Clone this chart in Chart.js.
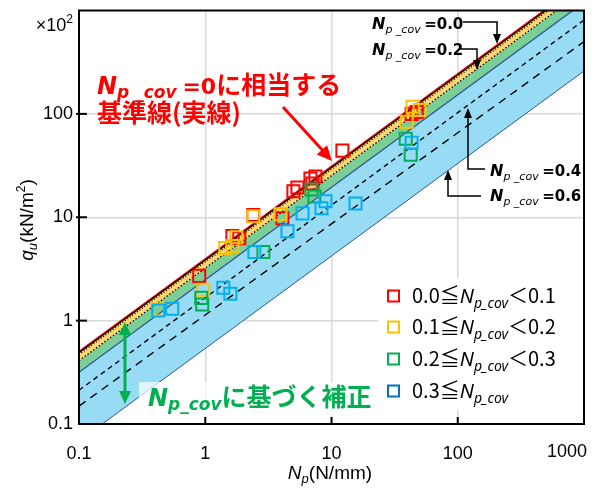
<!DOCTYPE html>
<html><head><meta charset="utf-8">
<script src="https://cdn.jsdelivr.net/npm/chart.js@4.4.1/dist/chart.umd.min.js"></script>
<style>html,body{margin:0;padding:0;background:#fff;}#wrap{width:598px;height:490px;}</style>
</head><body><div id="wrap"><canvas id="c" width="598" height="490"></canvas></div>
<script>
// ---- data ----
const xTicks = [0.1, 1, 10, 100, 1000];
const yTicks = [0.1, 1, 10, 100, 1000];
const lineNp = [0.1, 1000];
const lineCov = ['0.0', '0.1', '0.2', '0.3', '0.4', '0.5', '0.6'];
const lineQStart = [0.49, 0.47, 0.41, 0.316, 0.212, 0.149, 0.0685];
const lineQEnd = [1870, 1790, 1560, 1200, 807, 500, 260];

const npRed = [0.896, 1.64, 1.86, 2.40, 4.08, 4.99, 5.37, 6.81, 7.46, 7.06, 12.2, 43.1, 47.3];
const quRed = [2.71, 6.57, 6.28, 10.5, 9.78, 17.8, 19.4, 23.7, 24.8, 21.2, 44.1, 100, 104.5];
const npYellow = [0.424, 0.964, 1.44, 1.64, 1.76, 2.40, 3.94, 39.4, 43.9, 49.9];
const quYellow = [1.28, 1.99, 5.03, 5.26, 6.42, 10.2, 10.7, 83.7, 117, 109];
const npGreen = [0.93, 0.946, 2.89, 6.94, 7.33, 38.7, 42.4];
const quGreen = [1.66, 1.43, 4.61, 18.6, 15.9, 57.5, 40.3];
const npBlue = [0.424, 0.547, 1.39, 1.58, 2.45, 4.48, 5.89, 8.33, 8.96, 15.5, 43.1];
const quBlue = [1.25, 1.30, 2.08, 1.82, 4.61, 7.33, 10.9, 12.2, 14.3, 13.6, 52.6];

const legendLabels = [['0.0', '0.1'], ['0.1', '0.2'], ['0.2', '0.3'], ['0.3', null]];

// ---- helpers ----
const pts = (xs, ys) => xs.map((x, i) => ({x: x, y: ys[i]}));
const linePts = i => pts(lineNp, [lineQStart[i], lineQEnd[i]]);
const C = {
  red: 'rgb(255,0,0)', yellow: 'rgb(255,192,0)', green: 'rgb(0,176,80)', blue: 'rgb(0,176,240)',
  legBlue: 'rgb(0,112,192)', bandY: 'rgb(255,214,110)', bandG: 'rgb(122,207,150)', bandB: 'rgb(152,219,245)',
  edge: 'rgb(47,85,151)'
};
function scat(xs, ys, col, ord) {
  return {type: 'scatter', data: pts(xs, ys), borderColor: col, backgroundColor: 'rgba(0,0,0,0)',
    pointStyle: 'rect', pointRadius: 8.5, pointBorderWidth: 2, order: ord};
}
function ln(i, col, w, dash, ord, extra) {
  return Object.assign({type: 'line', data: linePts(i), borderColor: col, borderWidth: w, borderDash: dash,
    pointRadius: 0, fill: false, tension: 0, order: ord, backgroundColor: 'rgba(0,0,0,0)'}, extra || {});
}

const datasets = [
  scat(npBlue, quBlue, C.blue, 0),        //0
  scat(npGreen, quGreen, C.green, 1),     //1
  scat(npYellow, quYellow, C.yellow, 2),  //2
  scat(npRed, quRed, C.red, 3),           //3
  ln(0, '#000', 1.3, [], 10),             //4
  ln(1, '#000', 1.3, [1, 2], 11),         //5
  ln(2, '#000', 1.3, [1.5, 2], 12),       //6
  ln(3, C.edge, 1.3, [], 13),             //7
  ln(4, '#000', 1.4, [5, 4], 14),         //8
  ln(5, '#000', 1.4, [8, 6], 15),         //9
  ln(6, C.edge, 1, [], 16),               //10
  ln(0, 'rgba(0,0,0,0)', 0, [], 20, {fill: 6, backgroundColor: C.bandY}), //11 yellow band
  ln(0, C.red, 3.5, [], 21),              //12 red reference line
  ln(2, 'rgba(0,0,0,0)', 0, [], 22, {fill: 7, backgroundColor: C.bandG}), //13 green band
  ln(3, 'rgba(0,0,0,0)', 0, [], 23, {fill: 10, backgroundColor: C.bandB}) //14 blue band
];

// text runs
function runs(ctx, x, y, parts, align, color) {
  let w = 0;
  parts.forEach(p => { ctx.font = p.f; p.w = ctx.measureText(p.t).width; w += p.w + (p.sp || 0); });
  let cx = align === 'right' ? x - w : align === 'center' ? x - w / 2 : x;
  ctx.textAlign = 'left'; ctx.textBaseline = 'alphabetic';
  parts.forEach(p => { ctx.font = p.f; ctx.fillStyle = p.c || color || '#000'; ctx.fillText(p.t, cx, y + (p.dy || 0)); cx += p.w + (p.sp || 0); });
}
function arrowHead(ctx, x1, y1, x2, y2, len, hw, col) {
  const a = Math.atan2(y2 - y1, x2 - x1);
  ctx.fillStyle = col; ctx.beginPath();
  ctx.moveTo(x2, y2);
  ctx.lineTo(x2 - len * Math.cos(a) + hw * Math.sin(a), y2 - len * Math.sin(a) - hw * Math.cos(a));
  ctx.lineTo(x2 - len * Math.cos(a) - hw * Math.sin(a), y2 - len * Math.sin(a) + hw * Math.cos(a));
  ctx.closePath(); ctx.fill();
}
function poly(ctx, ptsArr, col, w) {
  ctx.strokeStyle = col; ctx.lineWidth = w; ctx.setLineDash([]); ctx.beginPath();
  ptsArr.forEach((p, i) => i ? ctx.lineTo(p[0], p[1]) : ctx.moveTo(p[0], p[1])); ctx.stroke();
}

const JP = '"Noto Sans CJK JP"';
const LAT = '"DejaVu Sans"';
const AR = '"Liberation Sans"';

const deco = {
  id: 'deco',
  beforeDraw(chart) {
    const ctx = chart.ctx; ctx.save(); ctx.fillStyle = '#fff'; ctx.fillRect(0, 0, chart.width, chart.height); ctx.restore();
  },
  afterDraw(chart) {
    const ctx = chart.ctx, a = chart.chartArea, xs = chart.scales.x, ys = chart.scales.y;
    ctx.save();
    // frame
    ctx.strokeStyle = '#000'; ctx.lineWidth = 2; ctx.setLineDash([]);
    ctx.strokeRect(a.left, a.top, a.right - a.left, a.bottom - a.top);
    // tick marks
    ctx.lineWidth = 2;
    [1, 10, 100].forEach(v => {
      const px = xs.getPixelForValue(v); ctx.beginPath(); ctx.moveTo(px, a.bottom); ctx.lineTo(px, a.bottom - 7); ctx.stroke();
      const py = ys.getPixelForValue(v); ctx.beginPath(); ctx.moveTo(a.left - 3, py); ctx.lineTo(a.left + 8, py); ctx.stroke();
    });
    // last x tick label, kept inside the canvas as in the reference
    ctx.font = `18px ${AR}`; ctx.fillStyle = '#000'; ctx.textAlign = 'right'; ctx.textBaseline = 'top';
    ctx.fillText(String(xTicks[xTicks.length - 1]), 587, a.bottom + 19);
    // x10^2
    runs(ctx, 73, 31, [{t: '×10', f: `18px ${AR}`}, {t: '2', f: `12px ${AR}`, dy: -8}], 'right');
    // y title
    ctx.save(); ctx.translate(26, 220); ctx.rotate(-Math.PI / 2);
    runs(ctx, 0, 7, [{t: 'q', f: `italic 19px ${AR}`}, {t: 'u', f: `italic 13px ${AR}`, dy: 4}, {t: '(kN/m', f: `19px ${AR}`}, {t: '2', f: `12px ${AR}`, dy: -8}, {t: ')', f: `19px ${AR}`}], 'center');
    ctx.restore();
    // x title
    runs(ctx, 330, 479, [{t: 'N', f: `italic 19px ${AR}`}, {t: 'p', f: `italic 13px ${AR}`, dy: 4}, {t: '(N/mm)', f: `19px ${AR}`}], 'center');

    // red annotation
    runs(ctx, 97, 94, [{t: 'N', f: `bold italic 24px ${LAT}`}, {t: 'p _cov ', f: `bold italic 17px ${LAT}`, dy: 4},
      {t: '=0', f: `bold 22px ${LAT}`}, {t: 'に相当する', f: `bold 25px ${JP}`}], 'left', C.red);
    runs(ctx, 97, 122, [{t: '基準線(実線)', f: `bold 25px ${JP}`}], 'left', C.red);
    poly(ctx, [[283, 107], [325, 153]], C.red, 3);
    arrowHead(ctx, 283, 107, 332, 161, 15, 7, C.red);

    // black labels
    const lab = (x, y, v) => runs(ctx, x, y, [{t: 'N', f: `bold italic 16px ${LAT}`}, {t: 'p _cov ', f: `italic 11px ${LAT}`, dy: 4}, {t: '=' + v, f: `bold 15px ${LAT}`}], 'left', '#000');
    lab(372, 29, '0.0'); lab(372, 55, '0.2'); lab(490, 176, '0.4'); lab(490, 201, '0.6');
    poly(ctx, [[463, 22], [497, 22], [497, 36]], '#000', 1.5); arrowHead(ctx, 497, 30, 497, 44, 10, 4, '#000');
    poly(ctx, [[460, 49], [477, 49], [477, 62]], '#000', 1.5); arrowHead(ctx, 477, 56, 477, 70, 10, 4, '#000');
    poly(ctx, [[485, 169], [468, 169], [468, 116]], '#000', 1.5); arrowHead(ctx, 468, 122, 468, 108, 10, 4, '#000');
    poly(ctx, [[481, 196], [448, 196], [448, 178]], '#000', 1.5); arrowHead(ctx, 448, 184, 448, 170, 10, 4, '#000');

    // green annotation
    ctx.fillStyle = 'rgba(255,255,255,0.7)'; ctx.fillRect(139, 382, 236, 34);
    poly(ctx, [[125, 332], [125, 393]], C.green, 3);
    arrowHead(ctx, 125, 340, 125, 322, 13, 6, C.green);
    arrowHead(ctx, 125, 385, 125, 404, 13, 6, C.green);
    runs(ctx, 148, 406, [{t: 'N', f: `bold italic 24px ${LAT}`}, {t: 'p_cov', f: `bold italic 17px ${LAT}`, dy: 4},
      {t: 'に基づく補正', f: `bold 25px ${JP}`}], 'left', C.green);

    // legend
    ctx.fillStyle = '#fff'; ctx.fillRect(378, 278, 205, 132);
    const legCols = [C.red, C.yellow, C.green, C.legBlue];
    const rowsY = [296, 327, 359, 391];
    legendLabels.forEach((l, i) => {
      ctx.strokeStyle = legCols[i]; ctx.lineWidth = 2; ctx.setLineDash([]);
      ctx.strokeRect(388, rowsY[i] - 5.5, 11, 11);
      const parts = [{t: l[0] + '≦', f: `20px ${JP}`}, {t: 'N', f: `italic 20px "Noto Sans"`}, {t: 'p_cov', f: `italic 14px "Noto Sans"`, dy: 5}];
      if (l[1]) parts.push({t: '＜' + l[1], f: `20px ${JP}`});
      runs(ctx, 412, rowsY[i] + 7, parts, 'left', '#000');
    });
    ctx.restore();
  }
};

new Chart(document.getElementById('c'), {
  type: 'scatter',
  data: {datasets: datasets},
  options: {
    responsive: false, animation: false, devicePixelRatio: 1,
    layout: {padding: {left: 0, right: 14, top: 8, bottom: 0}},
    plugins: {legend: {display: false}, tooltip: {enabled: false}},
    scales: {
      x: {
        type: 'logarithmic', min: 0.1, max: 1000, position: 'bottom',
        afterBuildTicks: s => { s.ticks = xTicks.map(v => ({value: v})); },
        afterFit: s => { s.height = 66; s.paddingLeft = 0; s.paddingRight = 0; },
        ticks: {callback: v => v === 1000 ? '' : String(v), font: {family: 'Liberation Sans', size: 18}, color: '#000', padding: 19, maxRotation: 0, autoSkip: false},
        grid: {color: c => (c.tick && (c.tick.value === 0.1 || c.tick.value === 1000)) ? 'rgba(0,0,0,0)' : 'rgb(217,217,217)', lineWidth: 1.5, drawTicks: false},
        border: {color: '#000', width: 2}
      },
      y: {
        type: 'logarithmic', min: 0.1, max: 1000, position: 'left',
        afterBuildTicks: s => { s.ticks = yTicks.map(v => ({value: v})); },
        afterFit: s => { s.width = 79; s.paddingTop = 0; s.paddingBottom = 0; },
        ticks: {callback: v => v === 1000 ? '' : String(v), font: {family: 'Liberation Sans', size: 18}, color: '#000', padding: 6, autoSkip: false},
        grid: {color: c => (c.tick && (c.tick.value === 0.1 || c.tick.value === 1000)) ? 'rgba(0,0,0,0)' : 'rgb(217,217,217)', lineWidth: 1.5, drawTicks: false},
        border: {color: '#000', width: 2}
      }
    }
  },
  plugins: [deco]
});
</script></body></html>
